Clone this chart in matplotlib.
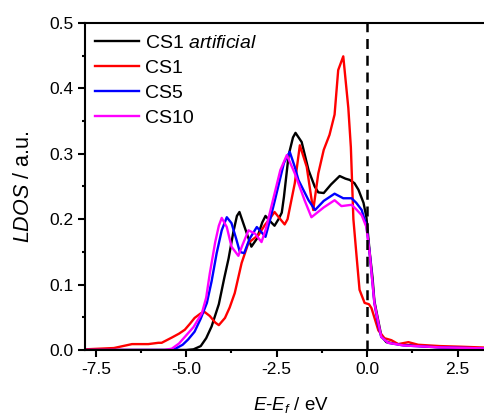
import matplotlib
matplotlib.use("Agg")
import matplotlib.pyplot as plt
from matplotlib.ticker import MultipleLocator

plt.rcParams['font.family'] = ['Liberation Sans', 'DejaVu Sans']
plt.rcParams['mathtext.fontset'] = 'custom'
plt.rcParams['mathtext.rm'] = 'Liberation Sans'
plt.rcParams['mathtext.it'] = 'Liberation Sans:italic'

# Local density of states, energy relative to the Fermi level (eV)
e_cs1_art = [-7.8, -5.0, -4.8, -4.6, -4.45, -4.3, -4.1, -3.95, -3.83, -3.7, -3.6, -3.53,
             -3.4, -3.2, -3.05, -2.9, -2.81, -2.65, -2.56, -2.45, -2.36, -2.3, -2.17,
             -2.05, -1.98, -1.81, -1.62, -1.45, -1.35, -1.2, -1.0, -0.76, -0.6, -0.48,
             -0.35, -0.24, -0.1, -0.02, 0.07, 0.15, 0.2, 0.26, 0.39, 0.53, 0.95, 1.5,
             2.05, 2.7, 3.6]
ldos_cs1_art = [0.0, 0.0, 0.001, 0.006, 0.018, 0.036, 0.07, 0.11, 0.14, 0.18, 0.205, 0.211,
                0.19, 0.158, 0.17, 0.195, 0.205, 0.195, 0.19, 0.2, 0.21, 0.234, 0.298,
                0.325, 0.332, 0.318, 0.275, 0.25, 0.241, 0.24, 0.253, 0.266, 0.262, 0.26,
                0.255, 0.245, 0.225, 0.203, 0.15, 0.11, 0.075, 0.058, 0.022, 0.012, 0.008,
                0.006, 0.004, 0.003, 0.002]

e_cs1 = [-7.8, -7.0, -6.5, -6.05, -5.77, -5.68, -5.4, -5.2, -5.04, -4.9, -4.77, -4.6,
         -4.49, -4.35, -4.2, -4.1, -3.93, -3.8, -3.66, -3.47, -3.28, -3.0, -2.83, -2.7,
         -2.56, -2.4, -2.28, -2.2, -2.0, -1.86, -1.67, -1.55, -1.49, -1.35, -1.2, -1.04,
         -0.9, -0.8, -0.66, -0.52, -0.45, -0.38, -0.29, -0.21, -0.07, 0.05, 0.12, 0.31,
         0.48, 0.67, 0.86, 1.14, 1.41, 2.0, 2.6, 3.6]
ldos_cs1 = [0.001, 0.003, 0.009, 0.009, 0.011, 0.011, 0.019, 0.025, 0.031, 0.04, 0.049, 0.056,
            0.058, 0.052, 0.042, 0.038, 0.049, 0.065, 0.087, 0.133, 0.164, 0.176, 0.191, 0.2,
            0.211, 0.2, 0.192, 0.2, 0.255, 0.313, 0.28, 0.235, 0.214, 0.27, 0.306, 0.329,
            0.36, 0.428, 0.449, 0.37, 0.31, 0.2, 0.142, 0.092, 0.072, 0.07, 0.064, 0.03,
            0.018, 0.015, 0.009, 0.012, 0.008, 0.006, 0.005, 0.003]

e_cs5 = [-7.8, -5.5, -5.3, -5.1, -4.95, -4.77, -4.6, -4.43, -4.3, -4.16, -4.02, -3.88,
         -3.75, -3.62, -3.52, -3.4, -3.25, -3.05, -2.92, -2.81, -2.68, -2.55, -2.3, -2.14,
         -2.0, -1.9, -1.62, -1.44, -1.2, -0.9, -0.66, -0.43, -0.3, -0.15, -0.02, 0.07,
         0.2, 0.3, 0.39, 0.58, 1.0, 2.0, 3.6]
ldos_cs5 = [0.0, 0.0, 0.002, 0.008, 0.016, 0.028, 0.048, 0.072, 0.105, 0.148, 0.183, 0.203,
            0.194, 0.17, 0.15, 0.148, 0.17, 0.188, 0.18, 0.173, 0.2, 0.229, 0.286, 0.303,
            0.28, 0.26, 0.229, 0.214, 0.228, 0.239, 0.232, 0.232, 0.225, 0.214, 0.19, 0.148,
            0.072, 0.04, 0.02, 0.011, 0.007, 0.004, 0.002]

e_cs10 = [-7.8, -5.6, -5.4, -5.2, -5.04, -4.8, -4.57, -4.45, -4.35, -4.2, -4.1, -4.02,
          -3.88, -3.75, -3.56, -3.45, -3.28, -3.1, -2.92, -2.8, -2.6, -2.4, -2.22, -2.0,
          -1.73, -1.54, -1.2, -0.9, -0.71, -0.43, -0.3, -0.15, -0.02, 0.07, 0.2, 0.39,
          0.58, 1.0, 2.0, 3.6]
ldos_cs10 = [0.0, 0.0, 0.002, 0.01, 0.02, 0.035, 0.056, 0.08, 0.117, 0.165, 0.19, 0.202,
             0.188, 0.158, 0.144, 0.16, 0.183, 0.178, 0.165, 0.185, 0.23, 0.275, 0.298, 0.27,
             0.229, 0.203, 0.218, 0.229, 0.22, 0.222, 0.215, 0.206, 0.188, 0.148, 0.072, 0.02,
             0.011, 0.007, 0.004, 0.002]

x_ticks = [-7.5, -5.0, -2.5, 0.0, 2.5]
y_ticks = [0.0, 0.1, 0.2, 0.3, 0.4, 0.5]

fig = plt.figure(figsize=(4.84, 4.18), dpi=100)
ax = fig.add_axes([0.1756, 0.1627, 0.852, 0.7823])

lw = 1.7
ax.plot(e_cs1_art, ldos_cs1_art, color='black', lw=lw, label='CS1 $artificial$')
ax.plot(e_cs1, ldos_cs1, color='#ff0000', lw=lw, label='CS1')
ax.plot(e_cs5, ldos_cs5, color='#0000ff', lw=lw, label='CS5')
ax.plot(e_cs10, ldos_cs10, color='#ff00ff', lw=lw, label='CS10')
ax.axvline(0.0, color='black', lw=1.8, linestyle=(0, (4, 2.7)))

ax.set_xlim(-7.8, 3.6)
ax.set_ylim(0.0, 0.5)
ax.set_xticks(x_ticks)
ax.set_xticklabels([f"{t:.1f}" for t in x_ticks])
ax.set_yticks(y_ticks)
ax.set_yticklabels([f"{t:.1f}" for t in y_ticks])
ax.xaxis.set_minor_locator(MultipleLocator(1.25))
ax.yaxis.set_minor_locator(MultipleLocator(0.05))

for side in ('left', 'bottom', 'top'):
    ax.spines[side].set_linewidth(1.5)
ax.spines['right'].set_visible(False)
ax.tick_params(which='major', direction='out', length=5, width=1.5, labelsize=12.5,
               top=False, right=False)
ax.tick_params(which='minor', direction='out', length=2.5, width=1.5, top=False, right=False)

ax.set_xlabel('$E$-$E_f$ / eV', fontsize=13.5, labelpad=13)
ax.set_ylabel('$LDOS$ / a.u.', fontsize=15.5, labelpad=11)

ax.legend(loc='upper left', bbox_to_anchor=(0.0, 0.994), frameon=False, fontsize=14,
          handlelength=2.3, handletextpad=0.3, labelspacing=0.38, borderaxespad=0.1)

fig.savefig('out.png', dpi=100)
